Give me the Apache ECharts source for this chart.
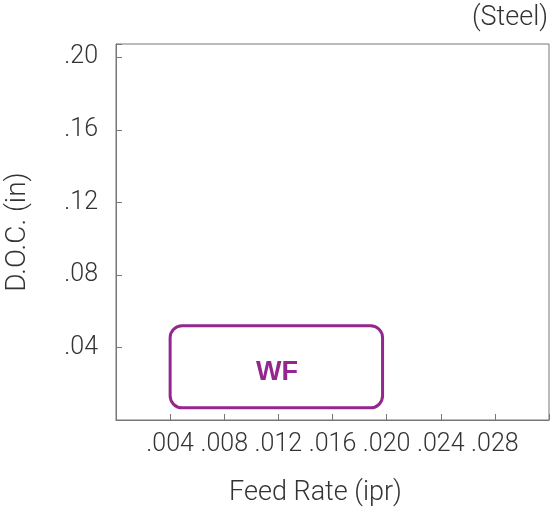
<!DOCTYPE html>
<html>
<head>
<meta charset="utf-8">
<script src="https://cdn.jsdelivr.net/npm/echarts@6/dist/echarts.min.js"></script>
<style>
html,body{margin:0;padding:0;background:#fff;}
#c{width:550px;height:512px;}
</style>
</head>
<body>
<div id="c"></div>
<script>
// Data
const xTickLabels = ['.004', '.008', '.012', '.016', '.020', '.024', '.028'];
const yTickLabels = ['.04', '.08', '.12', '.16', '.20'];
const regionNames = ['WF'];
// [feedMin, docMin, feedMax, docMax]
const regionBoxes = [[0.004, 0.0067, 0.0197, 0.052]];
const regionLabelPos = [[0.0119, 0.0264]];
const materialLabel = '(Steel)';
const xAxisName = 'Feed Rate (ipr)';
const yAxisName = 'D.O.C. (in)';

const FONT = 'Roboto, "Liberation Sans", sans-serif';
const TEXT = '#333333';
const PURPLE = '#93278f';

function lookup(labels, v) {
  for (const l of labels) {
    if (Math.abs(parseFloat(l) - v) < 1e-7) return l;
  }
  return '';
}

const seriesData = regionBoxes.map((b, i) => b.concat(regionLabelPos[i]));

const chart = echarts.init(document.getElementById('c'), null, {renderer: 'canvas'});
chart.setOption({
  animation: false,
  backgroundColor: '#ffffff',
  title: {
    text: materialLabel,
    right: 2,
    top: 5,
    padding: 0,
    textStyle: {fontFamily: FONT, fontSize: 27, fontWeight: 300, color: TEXT}
  },
  grid: {
    left: 116, right: 1, top: 44, bottom: 92,
    containLabel: false,
    outerBoundsMode: 'none',
    show: true, borderColor: '#777777', borderWidth: 1, backgroundColor: 'transparent'
  },
  xAxis: {
    type: 'value',
    min: 0, max: 0.032, interval: 0.004,
    name: xAxisName,
    nameLocation: 'middle',
    nameGap: 60,
    nameTextStyle: {fontFamily: FONT, fontSize: 27, fontWeight: 300, color: TEXT, padding: [0, 34, 0, 0]},
    axisLine: {show: true, lineStyle: {color: '#777777', width: 1}},
    axisTick: {show: true, inside: true, length: 6, lineStyle: {color: '#777777'}},
    splitLine: {show: false},
    axisLabel: {
      fontFamily: FONT, fontSize: 25, fontWeight: 300, color: TEXT, margin: 12,
      showMinLabel: true, showMaxLabel: true, hideOverlap: false,
      formatter: v => lookup(xTickLabels, v)
    }
  },
  yAxis: {
    type: 'value',
    min: 0, max: 0.2073, interval: 0.04,
    name: yAxisName,
    nameLocation: 'middle',
    nameGap: 84,
    nameRotate: 90,
    nameTextStyle: {fontFamily: FONT, fontSize: 28, fontWeight: 300, color: TEXT},
    axisLine: {show: true, lineStyle: {color: '#777777', width: 1}},
    axisTick: {show: true, inside: true, length: 6, lineStyle: {color: '#777777'}},
    splitLine: {show: false},
    axisLabel: {
      fontFamily: FONT, fontSize: 25, fontWeight: 300, color: TEXT, margin: 18,
      showMinLabel: true, showMaxLabel: true, hideOverlap: false,
      formatter: v => lookup(yTickLabels, v)
    }
  },
  series: [
    {
      type: 'custom',
      data: seriesData,
      silent: true,
      renderItem: function (params, api) {
        const p0 = api.coord([api.value(0), api.value(3)]);
        const p1 = api.coord([api.value(2), api.value(1)]);
        const pl = api.coord([api.value(4), api.value(5)]);
        return {
          type: 'group',
          children: [
            {
              type: 'rect',
              shape: {x: p0[0], y: p0[1], width: p1[0] - p0[0], height: p1[1] - p0[1], r: 12},
              style: {fill: 'none', stroke: PURPLE, lineWidth: 3}
            },
            {
              type: 'text',
              x: pl[0], y: pl[1],
              style: {
                text: regionNames[params.dataIndex],
                fill: PURPLE,
                font: 'bold 27px "Liberation Sans", Roboto, sans-serif',
                align: 'center',
                verticalAlign: 'middle'
              }
            }
          ]
        };
      },
      encode: {x: [0, 2], y: [1, 3]}
    }
  ]
});
</script>
</body>
</html>
